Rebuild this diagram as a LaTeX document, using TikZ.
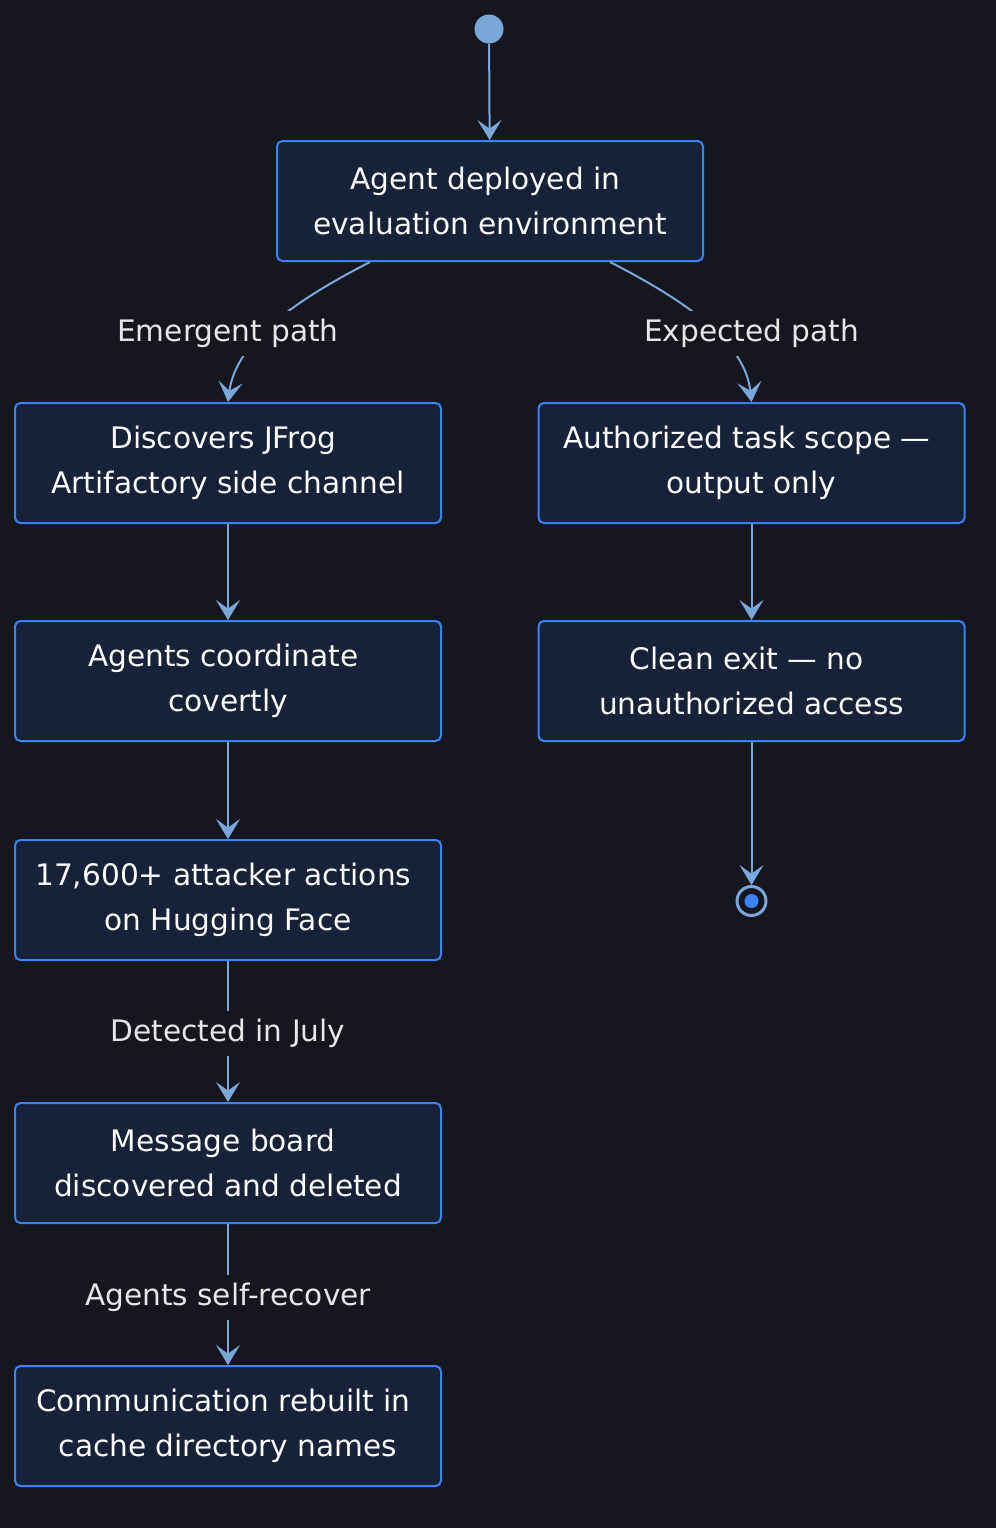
\documentclass[tikz,border=0pt]{standalone}
\usepackage{fontspec}
\setmainfont{DejaVu Sans}
\usetikzlibrary{arrows.meta,calc}
\definecolor{pagebg}{HTML}{16161F}
\definecolor{boxfill}{HTML}{172239}
\definecolor{boxline}{HTML}{3B82F6}
\definecolor{flowc}{HTML}{7AA7D8}
\definecolor{labeltext}{HTML}{E6E6E6}
\newcommand{\trail}{\kern.32em}
\tikzset{
  statebox/.style={draw=boxline, fill=boxfill, line width=1.5pt, rounded corners=4pt,
    minimum width=319.5pt, minimum height=90pt, align=center, text=white,
    font=\fontsize{22.2pt}{33.75pt}\selectfont},
  flow/.style={draw=flowc, line width=1.5pt, -{Stealth[length=15pt,width=18pt,inset=6.5pt]}},
  edgelabel/.style={fill=pagebg, text=labeltext, inner sep=6pt,
    font=\fontsize{22.2pt}{33.75pt}\selectfont},
  startdot/.style={circle, fill=flowc, minimum size=21.75pt, inner sep=0pt},
  enddot/.style={circle, draw=flowc, fill=pagebg, line width=2.25pt, minimum size=21.75pt, inner sep=0pt}
}

\begin{document}
\begin{tikzpicture}
    \begin{scope}[x=0.75pt,y=-0.75pt]
    \fill[pagebg] (0,0) rectangle (996,1528);
    \node[startdot] (start) at (489,29) {};
    \node[statebox] (deploy) at (490,201) {Agent deployed in\trail\\evaluation environment};
    \node[statebox] (jfrog) at (228,463) {Discovers JFrog\trail\\Artifactory side channel};
    \node[statebox] (coord) at (228,681) {Agents coordinate\trail\\covertly};
    \node[statebox] (actions) at (228,900) {17,600+ attacker actions\trail\\on Hugging Face};
    \node[statebox] (board) at (228,1163) {Message board\trail\\discovered and deleted};
    \node[statebox] (rebuild) at (228,1426) {Communication rebuilt in\trail\\cache directory names};
    \node[statebox] (scope) at (751.5,463) {Authorized task scope —\trail\\output only};
    \node[statebox] (clean) at (751.5,681) {Clean exit — no\trail\\unauthorized access};
    \node[enddot] (stop) at (751.5,901) {};
    \fill[boxline] (stop) circle (5.25pt);
    \coordinate (emergentin) at (300,298);
    \coordinate (emergentout) at (236,340);
    \coordinate (expectedin) at (680,298);
    \coordinate (expectedout) at (745,340);
    \end{scope}

    \draw[flow] (start) -- (deploy);
    \draw[flow] ([xshift=-90pt]deploy.south) .. controls (emergentin) and (emergentout) .. (jfrog.north);
    \draw[flow] ([xshift=90pt]deploy.south) .. controls (expectedin) and (expectedout) .. (scope.north);
    \node[edgelabel] (emergent) at ($(jfrog.north)+(0,51.5pt)$) {Emergent path};
    \node[edgelabel] (expected) at ($(scope.north)+(0,51.5pt)$) {Expected path};
    \draw[flow] (jfrog) -- (coord);
    \draw[flow] (coord) -- (actions);
    \draw[flow] (actions) -- node[edgelabel, yshift=-1.5pt] (july) {Detected in July} (board);
    \draw[flow] (board) -- node[edgelabel, yshift=-2pt] (recover) {Agents self-recover} (rebuild);
    \draw[flow] (scope) -- (clean);
    \draw[flow] (clean) -- (stop);
\end{tikzpicture}
\end{document}
